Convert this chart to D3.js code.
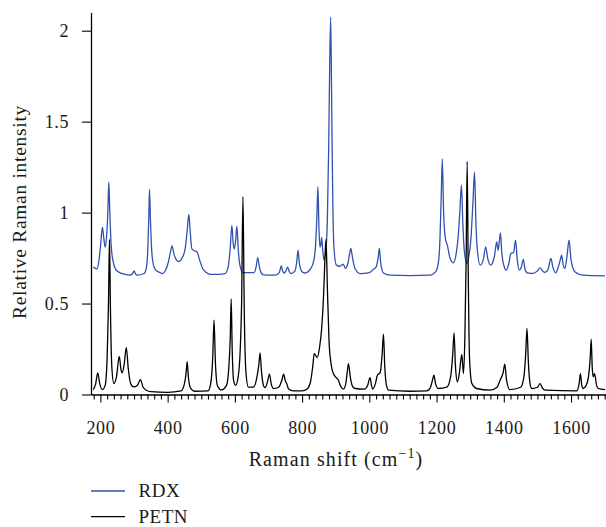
<!DOCTYPE html>
<html>
<head>
<meta charset="utf-8">
<script src="https://cdn.jsdelivr.net/npm/d3@7"></script>
<style>
  html, body { margin: 0; padding: 0; background: #fff; }
  svg { display: block; }
  svg text { font-family: "Liberation Serif", "Times New Roman", "DejaVu Serif", serif; }
</style>
</head>
<body>
<div id="chart"></div>
<script>
// Raman spectra (shift in cm-1, relative intensity)
const rdxShift = [179, 184, 189, 196, 201, 206, 210, 214, 218, 222, 225, 228, 232, 238, 245, 253, 273, 288, 296, 300, 304, 309, 330, 337, 341, 344, 346, 349, 353, 358, 365, 372, 385, 393, 401, 407, 413, 419, 426, 432, 443, 452, 458, 463, 467, 472, 480, 487, 495, 505, 520, 535, 571, 580, 586, 591, 595, 598, 602, 606, 610, 615, 624, 657, 663, 668, 673, 678, 684, 720, 732, 738, 742, 746, 752, 757, 762, 767, 779, 784, 788, 792, 800, 808, 826, 834, 840, 844, 847, 850, 853, 856, 858, 861, 865, 870, 875, 879, 882, 885, 888, 891, 895, 902, 913, 922, 929, 936, 941, 945, 950, 958, 973, 1000, 1012, 1020, 1026, 1030, 1034, 1042, 1062, 1121, 1181, 1197, 1205, 1210, 1214, 1217, 1221, 1226, 1232, 1240, 1250, 1258, 1264, 1269, 1274, 1278, 1282, 1290, 1296, 1302, 1308, 1313, 1317, 1321, 1330, 1340, 1346, 1352, 1361, 1372, 1379, 1383, 1386, 1390, 1394, 1400, 1407, 1415, 1421, 1429, 1435, 1440, 1446, 1452, 1458, 1463, 1470, 1488, 1500, 1508, 1515, 1522, 1532, 1540, 1546, 1554, 1562, 1568, 1572, 1577, 1582, 1588, 1594, 1600, 1612, 1636, 1701]
const rdxIntensity = [0.70, 0.695, 0.69, 0.74, 0.83, 0.92, 0.86, 0.81, 0.86, 1.0, 1.168, 1.0, 0.82, 0.73, 0.69, 0.675, 0.66, 0.656, 0.665, 0.68, 0.665, 0.656, 0.665, 0.70, 0.80, 0.98, 1.128, 0.95, 0.78, 0.71, 0.684, 0.675, 0.665, 0.68, 0.72, 0.77, 0.817, 0.77, 0.74, 0.73, 0.75, 0.80, 0.90, 0.99, 0.90, 0.80, 0.79, 0.785, 0.74, 0.69, 0.665, 0.66, 0.665, 0.70, 0.80, 0.93, 0.83, 0.80, 0.84, 0.926, 0.80, 0.71, 0.67, 0.67, 0.70, 0.753, 0.70, 0.67, 0.658, 0.656, 0.67, 0.707, 0.68, 0.668, 0.68, 0.70, 0.675, 0.665, 0.68, 0.73, 0.794, 0.72, 0.675, 0.668, 0.693, 0.73, 0.82, 0.98, 1.142, 0.92, 0.81, 0.83, 0.864, 0.80, 0.739, 0.78, 0.95, 1.35, 1.80, 2.075, 1.60, 1.10, 0.80, 0.711, 0.705, 0.717, 0.693, 0.72, 0.77, 0.803, 0.75, 0.69, 0.665, 0.67, 0.688, 0.70, 0.75, 0.803, 0.72, 0.668, 0.656, 0.654, 0.656, 0.674, 0.72, 0.85, 1.10, 1.294, 1.0, 0.86, 0.821, 0.75, 0.724, 0.77, 0.86, 1.0, 1.151, 0.95, 0.80, 0.72, 0.76, 0.85, 1.05, 1.224, 0.95, 0.80, 0.711, 0.75, 0.812, 0.75, 0.711, 0.76, 0.839, 0.794, 0.83, 0.889, 0.78, 0.71, 0.684, 0.72, 0.776, 0.78, 0.849, 0.74, 0.684, 0.70, 0.743, 0.69, 0.669, 0.666, 0.68, 0.696, 0.68, 0.671, 0.69, 0.748, 0.70, 0.669, 0.70, 0.74, 0.766, 0.71, 0.693, 0.76, 0.849, 0.74, 0.674, 0.656, 0.652]

const petnShift = [179, 186, 192, 198, 206, 214, 220, 224, 227, 230, 234, 240, 248, 256, 261, 265, 271, 277, 283, 290, 298, 310, 319, 327, 338, 350, 400, 440, 450, 455, 458, 462, 468, 480, 520, 528, 534, 538, 542, 548, 560, 575, 582, 586, 589, 592, 596, 602, 610, 616, 620, 624, 628, 633, 640, 655, 665, 671, 675, 679, 685, 690, 697, 703, 708, 715, 730, 740, 745, 750, 754, 760, 774, 800, 815, 825, 832, 836, 845, 852, 858, 864, 868, 871, 875, 880, 886, 893, 908, 916, 923, 930, 934, 938, 943, 950, 958, 985, 995, 1002, 1007, 1010, 1018, 1024, 1032, 1038, 1042, 1046, 1051, 1057, 1120, 1171, 1182, 1188, 1192, 1197, 1205, 1230, 1242, 1248, 1252, 1256, 1262, 1268, 1275, 1280, 1284, 1288, 1291, 1294, 1298, 1305, 1319, 1359, 1380, 1389, 1398, 1403, 1408, 1418, 1450, 1460, 1465, 1469, 1473, 1478, 1483, 1500, 1508, 1515, 1523, 1617, 1624, 1628, 1632, 1636, 1645, 1652, 1657, 1660, 1663, 1666, 1670, 1676, 1681, 1701]
const petnIntensity = [0.027, 0.06, 0.119, 0.06, 0.027, 0.05, 0.20, 0.50, 0.853, 0.45, 0.15, 0.06, 0.10, 0.21, 0.14, 0.119, 0.17, 0.258, 0.14, 0.06, 0.042, 0.05, 0.082, 0.04, 0.022, 0.016, 0.012, 0.02, 0.06, 0.12, 0.18, 0.09, 0.035, 0.018, 0.02, 0.06, 0.20, 0.409, 0.18, 0.05, 0.025, 0.05, 0.15, 0.30, 0.526, 0.25, 0.08, 0.05, 0.10, 0.25, 0.50, 1.087, 0.45, 0.12, 0.04, 0.04, 0.09, 0.16, 0.229, 0.13, 0.05, 0.038, 0.07, 0.112, 0.06, 0.033, 0.04, 0.08, 0.112, 0.075, 0.06, 0.03, 0.02, 0.02, 0.03, 0.07, 0.16, 0.225, 0.203, 0.26, 0.36, 0.55, 0.75, 0.853, 0.60, 0.30, 0.17, 0.115, 0.078, 0.04, 0.03, 0.06, 0.12, 0.17, 0.10, 0.045, 0.033, 0.03, 0.05, 0.093, 0.045, 0.03, 0.06, 0.106, 0.12, 0.22, 0.332, 0.15, 0.05, 0.024, 0.018, 0.02, 0.04, 0.08, 0.106, 0.06, 0.033, 0.04, 0.10, 0.22, 0.339, 0.16, 0.069, 0.12, 0.22, 0.115, 0.30, 0.75, 1.28, 0.70, 0.20, 0.06, 0.033, 0.024, 0.04, 0.079, 0.12, 0.167, 0.08, 0.027, 0.04, 0.10, 0.22, 0.363, 0.18, 0.06, 0.033, 0.04, 0.06, 0.035, 0.024, 0.02, 0.06, 0.115, 0.05, 0.033, 0.05, 0.10, 0.20, 0.304, 0.15, 0.097, 0.115, 0.05, 0.033, 0.027]

const xTickValues = [200, 400, 600, 800, 1000, 1200, 1400, 1600]
const yTickValues = [0, 0.5, 1, 1.5, 2]
const seriesNames = ["RDX", "PETN"]
const seriesColors = ["#3052AE", "#000000"]

const width = 606
const height = 527
const marginLeft = 91       // y axis position
const marginTop = 12.5      // top of the y axis
const plotBottom = 394.5    // x axis position
const fontFamily = "Liberation Serif"
const textColor = "#1a1a1a"

const x = d3.scaleLinear([172, 1704], [marginLeft, width])
const y = d3.scaleLinear([0, 2.1], [plotBottom, marginTop])

const svg = d3.select("#chart")
  .append("svg")
  .attr("width", width)
  .attr("height", height)
  .attr("viewBox", [0, 0, width, height])

// spectra
const line = d3.line()
  .x(d => x(d[0]))
  .y(d => y(d[1]))
  .curve(d3.curveMonotoneX)

const series = [
  d3.zip(rdxShift, rdxIntensity),
  d3.zip(petnShift, petnIntensity)
]

svg.append("g")
  .selectAll("path")
  .data(series)
  .join("path")
  .attr("fill", "none")
  .attr("stroke", (d, i) => seriesColors[i])
  .attr("stroke-width", 1.3)
  .attr("stroke-linejoin", "round")
  .attr("d", line)

// x axis: minor ticks every 20, major every 200
const minorTicks = d3.range(180, 1704, 20).filter(v => v % 200 !== 0)
svg.append("g")
  .attr("transform", `translate(0,${plotBottom})`)
  .call(d3.axisBottom(x).tickValues(minorTicks).tickSize(5).tickFormat(""))
  .call(g => g.select(".domain").remove())
  .call(g => g.selectAll(".tick line").attr("stroke-width", 1.1))

svg.append("g")
  .attr("transform", `translate(0,${plotBottom})`)
  .call(d3.axisBottom(x).tickValues(xTickValues).tickSize(8).tickSizeOuter(0).tickPadding(19).tickFormat(d3.format("d")))
  .attr("font-family", fontFamily)
  .call(g => g.select(".domain").attr("stroke-width", 1.3))
  .call(g => g.selectAll(".tick line").attr("stroke-width", 1.1))
  .call(g => g.selectAll(".tick text")
    .attr("font-size", 18)
    .attr("letter-spacing", 0.6)
    .attr("fill", textColor))

// y axis
svg.append("g")
  .attr("transform", `translate(${marginLeft},0)`)
  .call(d3.axisLeft(y).tickValues(yTickValues).tickSize(9).tickSizeOuter(0).tickPadding(13).tickFormat(d3.format("")))
  .attr("font-family", fontFamily)
  .call(g => g.select(".domain").attr("stroke-width", 1.3))
  .call(g => g.selectAll(".tick line").attr("stroke-width", 1.1))
  .call(g => g.selectAll(".tick text")
    .attr("font-size", 18)
    .attr("letter-spacing", 0.6)
    .attr("fill", textColor))

// axis labels
const xLabel = svg.append("text")
  .attr("x", 336)
  .attr("y", 466)
  .attr("text-anchor", "middle")
  .attr("font-family", fontFamily)
  .attr("font-size", 20)
  .attr("letter-spacing", 1.1)
  .attr("fill", textColor)
xLabel.append("tspan").text("Raman shift (cm")
xLabel.append("tspan").attr("dy", -8).attr("font-size", 14).text("−1")
xLabel.append("tspan").attr("dy", 8).text(")")

svg.append("text")
  .attr("transform", `translate(26,212) rotate(-90)`)
  .attr("text-anchor", "middle")
  .attr("font-family", fontFamily)
  .attr("font-size", 19.5)
  .attr("letter-spacing", 0.7)
  .attr("fill", textColor)
  .text("Relative Raman intensity")

// legend
const legend = svg.append("g")
  .selectAll("g")
  .data(seriesNames)
  .join("g")
  .attr("transform", (d, i) => `translate(91,${491 + i * 25.7})`)

legend.append("line")
  .attr("x1", 0)
  .attr("x2", 34)
  .attr("stroke", (d, i) => seriesColors[i])
  .attr("stroke-width", 1.3)

legend.append("text")
  .attr("x", 47.5)
  .attr("y", 6)
  .attr("font-family", fontFamily)
  .attr("font-size", 19)
  .attr("letter-spacing", 0.5)
  .attr("fill", textColor)
  .text(d => d)
</script>
</body>
</html>
